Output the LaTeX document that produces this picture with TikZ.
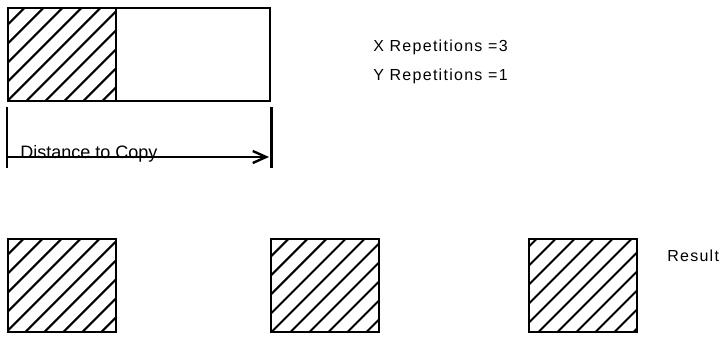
\documentclass[tikz,border=0pt]{standalone}
\usepackage{fontspec}
\setmainfont{Liberation Sans}
\newfontfamily\spacedfont[LetterSpace=8]{Liberation Sans}
\usetikzlibrary{arrows.meta,positioning,calc}

\begin{document}
\begin{tikzpicture}[x=0.75pt, y=-0.75pt,
  plainbox/.style={rectangle, draw, line width=1.8pt, inner sep=0pt, anchor=north west, minimum height=69.75pt},
  hatchbox/.style={plainbox, minimum width=81pt,
    path picture={\foreach \k in {0,...,11}
      \draw[line width=1.5pt] ($(path picture bounding box.north west)+(#1+19*\k,0)$) ++(4,-4) -- ++(-130,130);}},
  hatchbox/.default=16,
  extline/.style={line width=1.8pt},
  dimarrow/.style={line width=1.8pt, -{Straight Barb[length=10pt,width=9pt,line width=1.8pt]}},
  lbl/.style={font=\spacedfont\fontsize{12}{14}\selectfont, anchor=base west, inner sep=0pt}
]
  \useasboundingbox (0,0) rectangle (724,337);
  % copy source
  \node[plainbox, minimum width=196.5pt] (area) at (7,7) {};
  \node[hatchbox] (src) at (7,7) {};
  % distance to copy
  \draw[extline] ($(area.south west)+(0,5)$) coordinate (el) -- ++(0,61);
  \draw[extline] ($(area.south east)+(0,5)$) coordinate (er) -- ++(0,61);
  \coordinate (dl) at (7,157);
  \coordinate (dr) at (269,157);
  \draw[dimarrow] (dl) -- (dr);
  \node[anchor=base west, inner sep=0pt, font=\fontsize{13.5}{15}\selectfont] (dist) at ($(dl)+(13,1)$) {Distance to Copy};
  % repetitions
  \node[lbl] (xrep) at (373,51.5) {X Repetitions =3};
  \node[lbl] (yrep) at (373,80) {Y Repetitions =1};
  % result
  \node[hatchbox=15] (res1) at (7,238) {};
  \node[hatchbox=17] (res2) at (270,238) {};
  \node[hatchbox=7] (res3) at (528,238) {};
  \node[lbl] (result) at (667,261) {Result};
\end{tikzpicture}
\end{document}
